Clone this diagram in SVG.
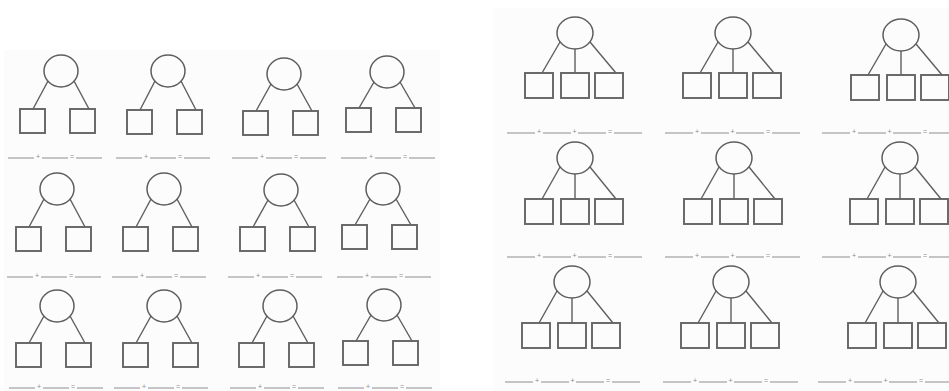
<svg xmlns="http://www.w3.org/2000/svg" width="949" height="391" viewBox="0 0 949 391">
<style>
.bg{fill:#ffffff}
.paper{fill:#fcfcfc}
.oval{fill:none;stroke:#5e5e5e;stroke-width:1.5}
.box{fill:none;stroke:#646464;stroke-width:1.9}
.conn line{stroke:#5e5e5e;stroke-width:1.4}
.ans path{fill:none;stroke:#8e8e8e;stroke-width:1.2}
.ans text{font-family:"Liberation Sans",Arial,sans-serif;font-size:7px;fill:#8a8a8a;text-anchor:middle}
</style>
<rect class="bg" x="0" y="0" width="949" height="391"/>
<rect class="paper" x="4" y="50" width="436" height="341"/>
<rect class="paper" x="494" y="8" width="455" height="383"/>

<!-- connectors -->
<g id="connectors" class="conn">
<line x1="48" y1="81" x2="33" y2="109"/><line x1="74" y1="81" x2="89" y2="109"/>
<line x1="155" y1="81" x2="140" y2="110"/><line x1="181" y1="81" x2="196" y2="110"/>
<line x1="271" y1="84" x2="256" y2="111"/><line x1="297" y1="84" x2="312" y2="111"/>
<line x1="374" y1="82" x2="359" y2="108"/><line x1="400" y1="82" x2="415" y2="108"/>
<line x1="44" y1="199" x2="29" y2="227"/><line x1="70" y1="199" x2="85" y2="227"/>
<line x1="151" y1="199" x2="136" y2="227"/><line x1="177" y1="199" x2="192" y2="227"/>
<line x1="268" y1="200" x2="253" y2="227"/><line x1="294" y1="200" x2="309" y2="227"/>
<line x1="370" y1="199" x2="355" y2="225"/><line x1="396" y1="199" x2="411" y2="225"/>
<line x1="44" y1="316" x2="29" y2="343"/><line x1="70" y1="316" x2="85" y2="343"/>
<line x1="151" y1="316" x2="136" y2="343"/><line x1="177" y1="316" x2="192" y2="343"/>
<line x1="267" y1="316" x2="252" y2="343"/><line x1="293" y1="316" x2="308" y2="343"/>
<line x1="371" y1="315" x2="356" y2="341"/><line x1="397" y1="315" x2="412" y2="341"/>

<line x1="560" y1="42" x2="542" y2="73"/><line x1="575" y1="49" x2="575" y2="73"/><line x1="590" y1="42" x2="616" y2="73"/>
<line x1="718" y1="42" x2="700" y2="73"/><line x1="733" y1="49" x2="733" y2="73"/><line x1="748" y1="42" x2="774" y2="73"/>
<line x1="886" y1="44" x2="868" y2="75"/><line x1="901" y1="51" x2="901" y2="75"/><line x1="916" y1="44" x2="942" y2="75"/>
<line x1="560" y1="167" x2="542" y2="199"/><line x1="575" y1="174" x2="575" y2="199"/><line x1="590" y1="167" x2="616" y2="199"/>
<line x1="719" y1="167" x2="701" y2="199"/><line x1="734" y1="174" x2="734" y2="199"/><line x1="749" y1="167" x2="775" y2="199"/>
<line x1="885" y1="167" x2="867" y2="199"/><line x1="900" y1="174" x2="900" y2="199"/><line x1="915" y1="167" x2="941" y2="199"/>
<line x1="557" y1="291" x2="539" y2="323"/><line x1="572" y1="298" x2="572" y2="323"/><line x1="587" y1="291" x2="613" y2="323"/>
<line x1="716" y1="291" x2="698" y2="323"/><line x1="731" y1="298" x2="731" y2="323"/><line x1="746" y1="291" x2="772" y2="323"/>
<line x1="883" y1="291" x2="865" y2="323"/><line x1="898" y1="298" x2="898" y2="323"/><line x1="913" y1="291" x2="939" y2="323"/>
</g>

<!-- left panel: two-part bonds -->
<g id="L11-top"><ellipse class="oval" cx="61" cy="71" rx="17" ry="16"/></g>
<g id="L11-a"><rect class="box" x="20" y="109" width="25" height="24"/></g>
<g id="L11-b"><rect class="box" x="70" y="109" width="25" height="24"/></g>
<g id="L12-top"><ellipse class="oval" cx="168" cy="71" rx="17" ry="16"/></g>
<g id="L12-a"><rect class="box" x="127" y="110" width="25" height="24"/></g>
<g id="L12-b"><rect class="box" x="177" y="110" width="25" height="24"/></g>
<g id="L13-top"><ellipse class="oval" cx="284" cy="74" rx="17" ry="16"/></g>
<g id="L13-a"><rect class="box" x="243" y="111" width="25" height="24"/></g>
<g id="L13-b"><rect class="box" x="293" y="111" width="25" height="24"/></g>
<g id="L14-top"><ellipse class="oval" cx="387" cy="72" rx="17" ry="16"/></g>
<g id="L14-a"><rect class="box" x="346" y="108" width="25" height="24"/></g>
<g id="L14-b"><rect class="box" x="396" y="108" width="25" height="24"/></g>

<g id="L21-top"><ellipse class="oval" cx="57" cy="189" rx="17" ry="16"/></g>
<g id="L21-a"><rect class="box" x="16" y="227" width="25" height="24"/></g>
<g id="L21-b"><rect class="box" x="66" y="227" width="25" height="24"/></g>
<g id="L22-top"><ellipse class="oval" cx="164" cy="189" rx="17" ry="16"/></g>
<g id="L22-a"><rect class="box" x="123" y="227" width="25" height="24"/></g>
<g id="L22-b"><rect class="box" x="173" y="227" width="25" height="24"/></g>
<g id="L23-top"><ellipse class="oval" cx="281" cy="190" rx="17" ry="16"/></g>
<g id="L23-a"><rect class="box" x="240" y="227" width="25" height="24"/></g>
<g id="L23-b"><rect class="box" x="290" y="227" width="25" height="24"/></g>
<g id="L24-top"><ellipse class="oval" cx="383" cy="189" rx="17" ry="16"/></g>
<g id="L24-a"><rect class="box" x="342" y="225" width="25" height="24"/></g>
<g id="L24-b"><rect class="box" x="392" y="225" width="25" height="24"/></g>

<g id="L31-top"><ellipse class="oval" cx="57" cy="306" rx="17" ry="16"/></g>
<g id="L31-a"><rect class="box" x="16" y="343" width="25" height="24"/></g>
<g id="L31-b"><rect class="box" x="66" y="343" width="25" height="24"/></g>
<g id="L32-top"><ellipse class="oval" cx="164" cy="306" rx="17" ry="16"/></g>
<g id="L32-a"><rect class="box" x="123" y="343" width="25" height="24"/></g>
<g id="L32-b"><rect class="box" x="173" y="343" width="25" height="24"/></g>
<g id="L33-top"><ellipse class="oval" cx="280" cy="306" rx="17" ry="16"/></g>
<g id="L33-a"><rect class="box" x="239" y="343" width="25" height="24"/></g>
<g id="L33-b"><rect class="box" x="289" y="343" width="25" height="24"/></g>
<g id="L34-top"><ellipse class="oval" cx="384" cy="305" rx="17" ry="16"/></g>
<g id="L34-a"><rect class="box" x="343" y="341" width="25" height="24"/></g>
<g id="L34-b"><rect class="box" x="393" y="341" width="25" height="24"/></g>

<!-- right panel: three-part bonds -->
<g id="R11-top"><ellipse class="oval" cx="575" cy="33" rx="18" ry="16"/></g>
<g id="R11-a"><rect class="box" x="525" y="73" width="28" height="25"/></g>
<g id="R11-b"><rect class="box" x="561" y="73" width="28" height="25"/></g>
<g id="R11-c"><rect class="box" x="595" y="73" width="28" height="25"/></g>
<g id="R12-top"><ellipse class="oval" cx="733" cy="33" rx="18" ry="16"/></g>
<g id="R12-a"><rect class="box" x="683" y="73" width="28" height="25"/></g>
<g id="R12-b"><rect class="box" x="719" y="73" width="28" height="25"/></g>
<g id="R12-c"><rect class="box" x="753" y="73" width="28" height="25"/></g>
<g id="R13-top"><ellipse class="oval" cx="901" cy="35" rx="18" ry="16"/></g>
<g id="R13-a"><rect class="box" x="851" y="75" width="28" height="25"/></g>
<g id="R13-b"><rect class="box" x="887" y="75" width="28" height="25"/></g>
<g id="R13-c"><rect class="box" x="921" y="75" width="28" height="25"/></g>

<g id="R21-top"><ellipse class="oval" cx="575" cy="158" rx="18" ry="16"/></g>
<g id="R21-a"><rect class="box" x="525" y="199" width="28" height="25"/></g>
<g id="R21-b"><rect class="box" x="561" y="199" width="28" height="25"/></g>
<g id="R21-c"><rect class="box" x="595" y="199" width="28" height="25"/></g>
<g id="R22-top"><ellipse class="oval" cx="734" cy="158" rx="18" ry="16"/></g>
<g id="R22-a"><rect class="box" x="684" y="199" width="28" height="25"/></g>
<g id="R22-b"><rect class="box" x="720" y="199" width="28" height="25"/></g>
<g id="R22-c"><rect class="box" x="754" y="199" width="28" height="25"/></g>
<g id="R23-top"><ellipse class="oval" cx="900" cy="158" rx="18" ry="16"/></g>
<g id="R23-a"><rect class="box" x="850" y="199" width="28" height="25"/></g>
<g id="R23-b"><rect class="box" x="886" y="199" width="28" height="25"/></g>
<g id="R23-c"><rect class="box" x="920" y="199" width="28" height="25"/></g>

<g id="R31-top"><ellipse class="oval" cx="572" cy="282" rx="18" ry="16"/></g>
<g id="R31-a"><rect class="box" x="522" y="323" width="28" height="25"/></g>
<g id="R31-b"><rect class="box" x="558" y="323" width="28" height="25"/></g>
<g id="R31-c"><rect class="box" x="592" y="323" width="28" height="25"/></g>
<g id="R32-top"><ellipse class="oval" cx="731" cy="282" rx="18" ry="16"/></g>
<g id="R32-a"><rect class="box" x="681" y="323" width="28" height="25"/></g>
<g id="R32-b"><rect class="box" x="717" y="323" width="28" height="25"/></g>
<g id="R32-c"><rect class="box" x="751" y="323" width="28" height="25"/></g>
<g id="R33-top"><ellipse class="oval" cx="898" cy="282" rx="18" ry="16"/></g>
<g id="R33-a"><rect class="box" x="848" y="323" width="28" height="25"/></g>
<g id="R33-b"><rect class="box" x="884" y="323" width="28" height="25"/></g>
<g id="R33-c"><rect class="box" x="918" y="323" width="28" height="25"/></g>

<!-- answer lines -->
<g id="answer-lines" class="ans">
<path d="M8 158h26M42 158h26M76 158h26M116 158h26M150 158h26M184 158h26M232 158h26M266 158h26M300 158h26M341 158h26M375 158h26M409 158h26"/>
<path d="M7 277h26M41 277h26M75 277h26M112 277h26M146 277h26M180 277h26M228 277h26M262 277h26M296 277h26M337 277h26M371 277h26M405 277h26"/>
<path d="M9 388h26M43 388h26M77 388h26M114 388h26M148 388h26M182 388h26M230 388h26M264 388h26M298 388h26M338 388h26M372 388h26M406 388h26"/>
<text x="38" y="159">+</text><text x="72" y="159">=</text>
<text x="146" y="159">+</text><text x="180" y="159">=</text>
<text x="262" y="159">+</text><text x="296" y="159">=</text>
<text x="371" y="159">+</text><text x="405" y="159">=</text>
<text x="37" y="278">+</text><text x="71" y="278">=</text>
<text x="142" y="278">+</text><text x="176" y="278">=</text>
<text x="258" y="278">+</text><text x="292" y="278">=</text>
<text x="367" y="278">+</text><text x="401" y="278">=</text>
<text x="39" y="389">+</text><text x="73" y="389">=</text>
<text x="144" y="389">+</text><text x="178" y="389">=</text>
<text x="260" y="389">+</text><text x="294" y="389">=</text>
<text x="368" y="389">+</text><text x="402" y="389">=</text>

<path d="M507 133h28M543 133h28M578 133h28M614 133h28M665 133h28M701 133h28M736 133h28M772 133h28M822 133h28M858 133h28M893 133h28M929 133h28"/>
<path d="M507 257h28M543 257h28M578 257h28M614 257h28M665 257h28M701 257h28M736 257h28M772 257h28M822 257h28M858 257h28M893 257h28M929 257h28"/>
<path d="M505 382h28M541 382h28M576 382h28M612 382h28M663 382h28M699 382h28M734 382h28M770 382h28M818 382h28M854 382h28M889 382h28M925 382h28"/>
<text x="539" y="134">+</text><text x="574.5" y="134">+</text><text x="610" y="134">=</text>
<text x="697" y="134">+</text><text x="732.5" y="134">+</text><text x="768" y="134">=</text>
<text x="854" y="134">+</text><text x="889.5" y="134">+</text><text x="925" y="134">=</text>
<text x="539" y="258">+</text><text x="574.5" y="258">+</text><text x="610" y="258">=</text>
<text x="697" y="258">+</text><text x="732.5" y="258">+</text><text x="768" y="258">=</text>
<text x="854" y="258">+</text><text x="889.5" y="258">+</text><text x="925" y="258">=</text>
<text x="537" y="383">+</text><text x="572.5" y="383">+</text><text x="608" y="383">=</text>
<text x="695" y="383">+</text><text x="730.5" y="383">+</text><text x="766" y="383">=</text>
<text x="850" y="383">+</text><text x="885.5" y="383">+</text><text x="921" y="383">=</text>
</g>
</svg>
